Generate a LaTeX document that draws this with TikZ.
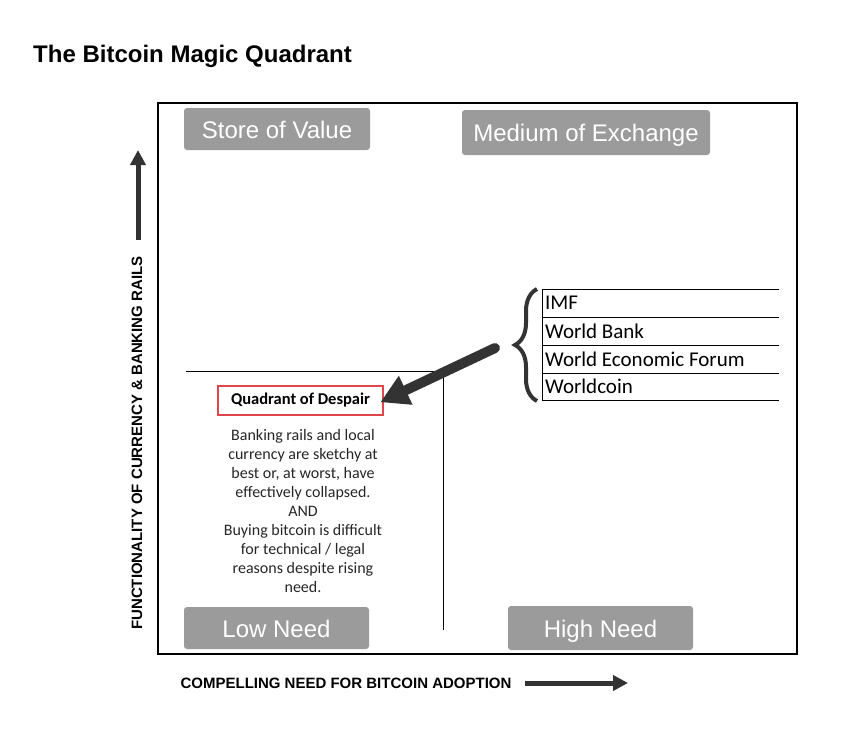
\documentclass[tikz,border=0pt]{standalone}
\usepackage{fontspec}
\setmainfont{Liberation Sans}
\newfontfamily\calibri{Carlito}
\usepackage{xcolor}
\usetikzlibrary{arrows.meta,decorations.pathreplacing,positioning}
\definecolor{qgray}{HTML}{9B9B9B}
\definecolor{arrowgray}{HTML}{333333}
\definecolor{despairred}{HTML}{E0474C}
\tikzset{
  quadlabel/.style={fill=qgray, rounded corners=3pt, text=white, inner sep=0pt,
    text height=18pt, text depth=0pt, font=\fontsize{24}{26}\selectfont},
  axislabel/.style={font=\bfseries\fontsize{15}{17}\selectfont, inner sep=0pt},
  rowtext/.style={font=\calibri\fontsize{21}{22}\selectfont, inner sep=0pt, anchor=west},
  bigarrow/.style={draw=arrowgray, line width=5pt, -{Triangle[length=15pt,width=15pt]}}
}
\begin{document}
\begin{tikzpicture}[x=1pt,y=-1pt]
\useasboundingbox (0,0) rectangle (854,737);

\node[font=\bfseries\fontsize{24}{26}\selectfont, anchor=base west, inner sep=0pt] (title) at (33,62) {The Bitcoin Magic Quadrant};

\draw[line width=2.5pt] (158,103) rectangle (797,654);
\draw[line width=1pt] (186,371) -- (443,371);
\draw[line width=1pt] (443,371) -- (443,630);

\node[quadlabel, minimum width=186pt, minimum height=42pt] (store) at (277,129) {Store of Value};
\node[quadlabel, minimum width=248pt, minimum height=45pt] (medium) at (586,132.5) {Medium of Exchange};
\node[quadlabel, minimum width=185pt, minimum height=42pt] (low) at (276.5,628) {Low Need};
\node[quadlabel, minimum width=185pt, minimum height=44pt] (high) at (600.5,628) {High Need};

\node[axislabel, rotate=90] (ylabel) at (137,443) {FUNCTIONALITY OF CURRENCY \& BANKING RAILS};
\coordinate (ytail) at (138,240);
\coordinate (yhead) at (138,150);
\draw[bigarrow] (ytail) -- (yhead);

\node[axislabel] (xlabel) at (346,683) {COMPELLING NEED FOR BITCOIN ADOPTION};
\coordinate (xtail) at (525,683);
\coordinate (xhead) at (628,683);
\draw[bigarrow] (xtail) -- (xhead);

\draw[line width=1pt] (542,289) -- (779,289);
\draw[line width=1pt] (542,317) -- (779,317);
\draw[line width=1pt] (542,345) -- (779,345);
\draw[line width=1pt] (542,373) -- (779,373);
\draw[line width=1pt] (542,400) -- (779,400);
\draw[line width=1pt] (542,289) -- (542,400);
\node[rowtext] (imf) at (545,303) {IMF};
\node[rowtext] (worldbank) at (545,331) {World Bank};
\node[rowtext] (wef) at (545,359) {World Economic Forum};
\node[rowtext] (worldcoin) at (545,386.5) {Worldcoin};

\draw[arrowgray, line width=4pt, decorate, decoration={brace, amplitude=22pt}] (537,401) -- (537,289);
\coordinate (bracetip) at (495,348);

\node[draw=despairred, line width=2pt, minimum width=165pt, minimum height=29pt, inner sep=0pt,
  font=\calibri\bfseries\fontsize{16.5}{18}\selectfont] (despair) at (300.5,400.5) {Quadrant of Despair};
\draw[draw=arrowgray, line width=10pt, line cap=round, -{Triangle[length=28pt,width=30pt]}, shorten >=-4pt] (bracetip) -- (despair.east);

\node[align=center, inner sep=0pt, text=black!85, font=\calibri\fontsize{16}{19}\selectfont] (desc) at (303,511)
  {Banking rails and local\\currency are sketchy at\\best or, at worst, have\\effectively collapsed.\\AND\\Buying bitcoin is difficult\\for technical / legal\\reasons despite rising\\need.};
\end{tikzpicture}
\end{document}
